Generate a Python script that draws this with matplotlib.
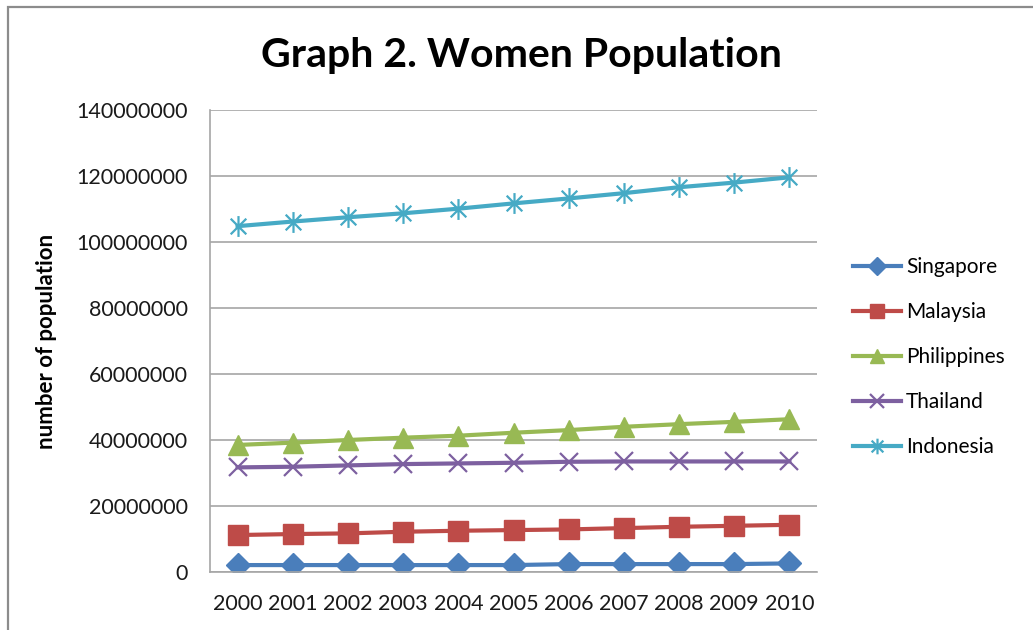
import numpy as np
import matplotlib
matplotlib.use('Agg')
import matplotlib.pyplot as plt
from matplotlib.path import Path
from matplotlib.patches import Rectangle

years = ['2000', '2001', '2002', '2003', '2004', '2005', '2006', '2007', '2008', '2009', '2010']
singapore = [2.1, 2.1, 2.1, 2.1, 2.1, 2.1, 2.4, 2.4, 2.4, 2.4, 2.6]
malaysia = [11.2, 11.5, 11.7, 12.2, 12.5, 12.7, 12.9, 13.3, 13.7, 14.0, 14.3]
philippines = [38.5, 39.2, 40.0, 40.7, 41.3, 42.2, 43.0, 44.0, 44.8, 45.5, 46.3]
thailand = [31.7, 31.9, 32.3, 32.7, 32.9, 33.1, 33.4, 33.5, 33.5, 33.5, 33.5]
indonesia = [104.8, 106.2, 107.5, 108.7, 110.1, 111.7, 113.2, 114.8, 116.6, 118.0, 119.6]

plt.rcParams['font.family'] = ['Lato', 'DejaVu Sans']

# excel style asterisk: vertical bar plus an x
star = Path([(0, -1), (0, 1), (-0.75, -0.75), (0.75, 0.75), (-0.75, 0.75), (0.75, -0.75)],
            [Path.MOVETO, Path.LINETO, Path.MOVETO, Path.LINETO, Path.MOVETO, Path.LINETO])

series = [
    ('Singapore', singapore, '#4A7EBB', 'D', 12),
    ('Malaysia', malaysia, '#BE4B48', 's', 14),
    ('Philippines', philippines, '#98B954', '^', 14),
    ('Thailand', thailand, '#7D60A0', 'x', 13),
    ('Indonesia', indonesia, '#46AAC5', star, 15),
]

fig = plt.figure(figsize=(10.33, 6.3), dpi=100)
fig.patches.append(Rectangle((8/1033, -0.1), 1.2, 1.1 - 7/630, transform=fig.transFigure,
                             fill=False, edgecolor='#8c8c8c', lw=1.6))

ax = fig.add_axes([210/1033, 58/630, 607/1033, 462/630])
x = np.arange(len(years))
for name, vals, col, mk, ms in series:
    thin = mk == 'x' or mk is star
    ax.plot(x, np.array(vals) * 1e6, color=col, lw=3, marker=mk, markersize=ms,
            markeredgewidth=1.6 if thin else 1,
            markeredgecolor=col, markerfacecolor=col, label=name)

ax.set_xlim(-0.5, 10.5)
ax.set_ylim(0, 140000000)
ax.set_yticks(np.arange(0, 140000001, 20000000))
ax.set_yticklabels([str(v) for v in range(0, 140000001, 20000000)])
ax.set_xticks(x)
ax.set_xticklabels(years)
ax.tick_params(length=0, labelsize=15.5, colors='#1a1a1a')
ax.tick_params(axis='x', pad=16)
ax.tick_params(axis='y', pad=16)
ax.grid(axis='y', color='#a6a6a6', lw=1.2)
ax.set_axisbelow(True)
for s in ['top', 'right']:
    ax.spines[s].set_visible(False)
for s in ['left', 'bottom']:
    ax.spines[s].set_color('#a6a6a6')
    ax.spines[s].set_linewidth(1.2)

ax.set_ylabel('number of population', fontsize=16, fontweight='bold', labelpad=14)
fig.text(521/1033, 1 - 55/630, 'Graph 2. Women Population', ha='center', va='center',
         fontsize=29.5, fontweight='bold')

ax.legend(loc='center left', bbox_to_anchor=(834/1033, 1 - 357/630), bbox_transform=fig.transFigure,
          frameon=False, fontsize=15, handlelength=2.3, labelspacing=1.2, handletextpad=0.25,
          markerscale=0.75)

fig.savefig('out.png', dpi=100)
